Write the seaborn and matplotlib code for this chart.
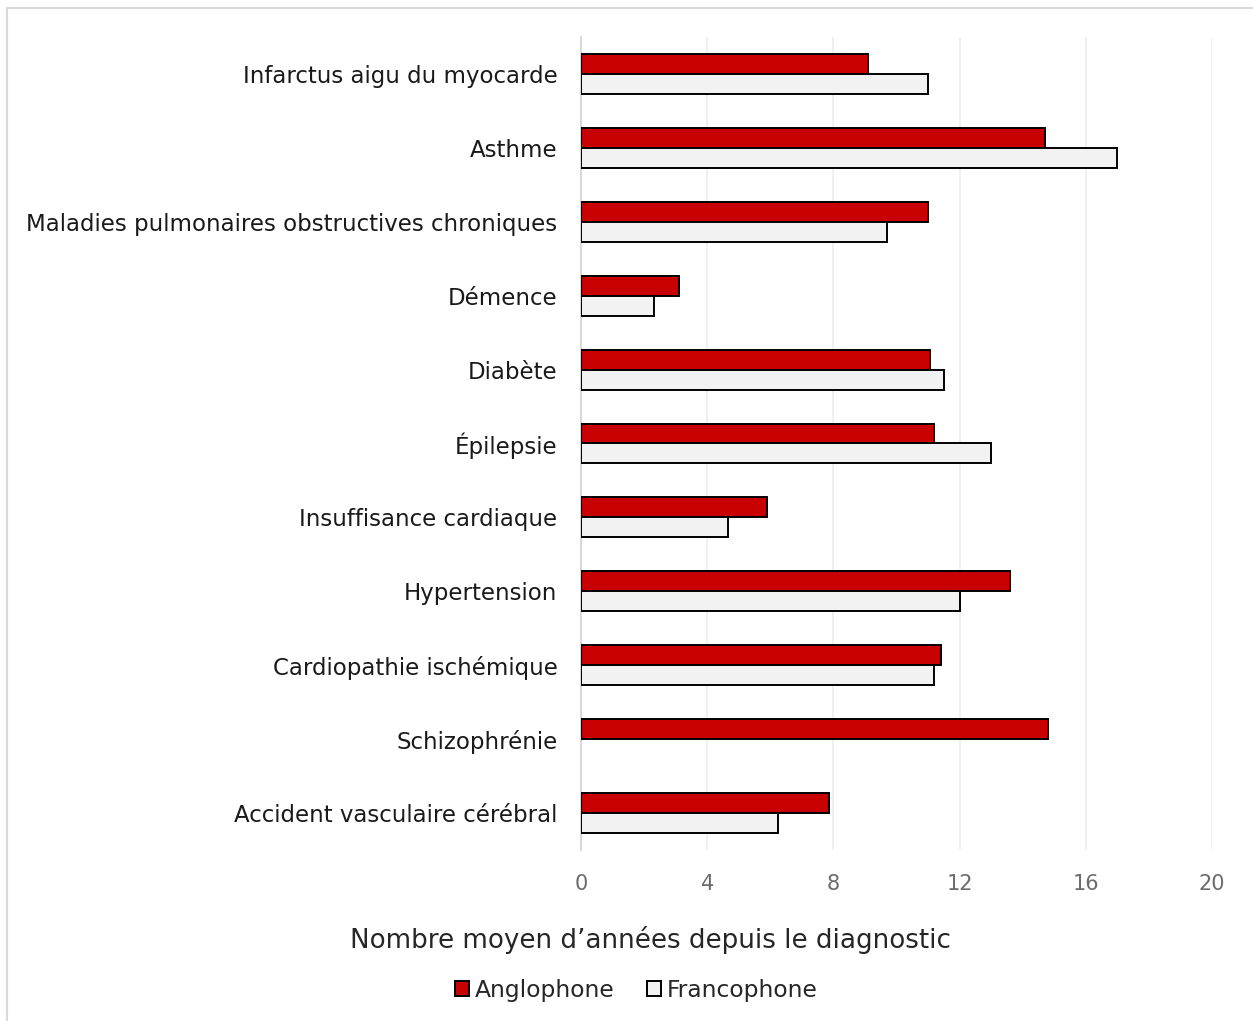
import matplotlib
matplotlib.use("Agg")
import matplotlib.pyplot as plt
from matplotlib.patches import Rectangle
import numpy as np
import pandas as pd
import seaborn as sns

categories = [
    "Infarctus aigu du myocarde",
    "Asthme",
    "Maladies pulmonaires obstructives chroniques",
    "Démence",
    "Diabète",
    "Épilepsie",
    "Insuffisance cardiaque",
    "Hypertension",
    "Cardiopathie ischémique",
    "Schizophrénie",
    "Accident vasculaire cérébral",
]
anglophone = [9.1, 14.7, 11.0, 3.1, 11.05, 11.2, 5.9, 13.6, 11.4, 14.8, 7.85]
francophone = [11.0, 17.0, 9.7, 2.3, 11.5, 13.0, 4.65, 12.0, 11.2, np.nan, 6.25]
groups = ["Anglophone", "Francophone"]
x_ticks = [0, 4, 8, 12, 16, 20]

df = pd.DataFrame({
    "maladie": categories * 2,
    "groupe": [groups[0]] * len(categories) + [groups[1]] * len(categories),
    "annees": anglophone + francophone,
})

sns.set_theme(style="white")
plt.rcParams["font.family"] = ["DejaVu Sans"]

W, H = 1253, 1021
fig = plt.figure(figsize=(W / 100, H / 100), dpi=100)
ax = fig.add_axes([581 / W, 1 - 850 / H, 631 / W, 813 / H])

sns.barplot(
    data=df, y="maladie", x="annees", hue="groupe", order=categories,
    hue_order=groups, palette={"Anglophone": "#C90000", "Francophone": "#F2F2F2"},
    saturation=1, orient="h", width=0.54, edgecolor="black", linewidth=1.4,
    errorbar=None, ax=ax, legend=True, zorder=3,
)

ax.set_xlim(0, 20)
ax.set_xticks(x_ticks)
ax.set_xticklabels([str(t) for t in x_ticks])
ax.grid(axis="x", color="#EDEDED", linewidth=1.2, zorder=0)
ax.grid(axis="y", visible=False)
for side in ["top", "right", "bottom"]:
    ax.spines[side].set_visible(False)
ax.spines["left"].set_color("#D9D9D9")
ax.spines["left"].set_linewidth(1.5)
ax.tick_params(axis="y", length=0, pad=17, labelsize=16.5, labelcolor="#1A1A1A")
ax.tick_params(axis="x", length=0, pad=17, labelsize=15, labelcolor="#6B6B6B")
ax.set_ylabel("")
ax.set_xlabel("")
fig.text(650 / W, 1 - 940 / H, "Nombre moyen d\u2019années depuis le diagnostic",
         fontsize=18.8, color="#262626", ha="center", va="center")

handles, labels = ax.get_legend_handles_labels()
ax.get_legend().remove()
fig.legend(handles, labels, loc="center", bbox_to_anchor=(636 / W, 1 - 990 / H),
           ncol=2, frameon=False, fontsize=16.8, handlelength=0.6, handleheight=0.6,
           handletextpad=0.25, columnspacing=1.4, labelcolor="#262626")

fig.patches.append(Rectangle((7 / W, -0.1), 1.2, 1 - 8 / H + 0.1, transform=fig.transFigure,
                             fill=False, edgecolor="#D9D9D9", linewidth=1.5))

fig.savefig("out.png", dpi=100)
